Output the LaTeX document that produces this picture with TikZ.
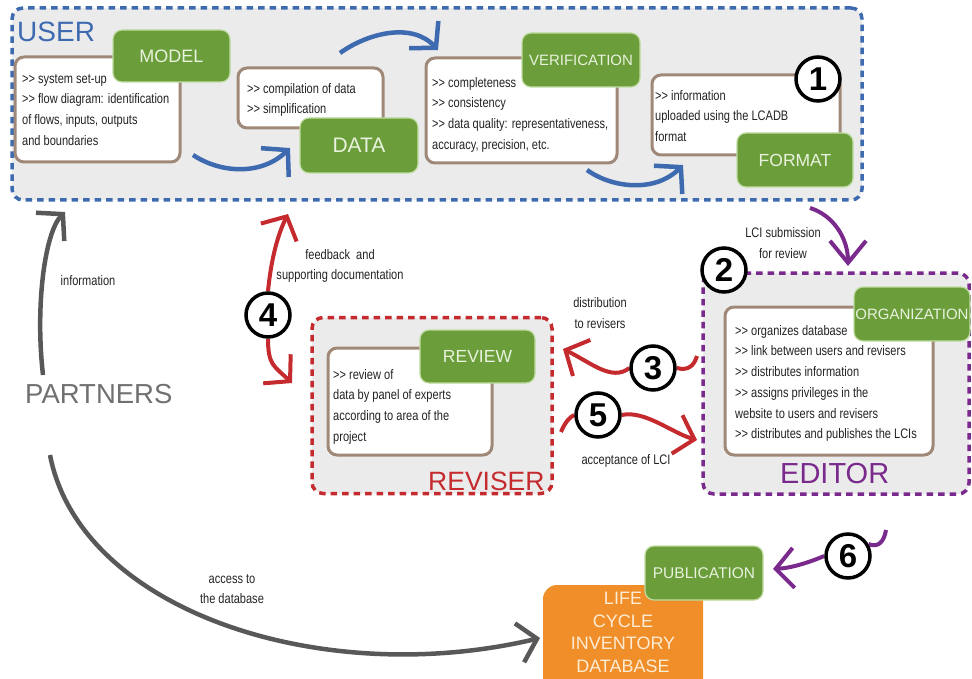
\documentclass[tikz,border=0pt]{standalone}
\usepackage{fontspec}
\setmainfont{Liberation Sans}
\newfontfamily\nf{Liberation Sans}[FakeStretch=0.8]
\usetikzlibrary{arrows.meta}
\definecolor{ublue}{RGB}{62,106,176}
\definecolor{gfill}{RGB}{107,158,58}
\definecolor{gline}{RGB}{190,220,160}
\definecolor{gtext}{RGB}{232,242,222}
\definecolor{bline}{RGB}{160,136,120}
\definecolor{cfill}{RGB}{235,235,235}
\definecolor{rred}{RGB}{196,42,46}
\definecolor{ppur}{RGB}{122,42,140}
\definecolor{agray}{RGB}{88,88,88}
\definecolor{ptext}{RGB}{112,112,112}
\definecolor{oorange}{RGB}{240,142,42}
\definecolor{otext}{RGB}{253,236,212}
\definecolor{stext}{RGB}{35,35,35}
\pgfdeclarelayer{back}
\pgfdeclarelayer{mid}
\pgfsetlayers{back,mid,main}
\begin{document}
\begin{tikzpicture}[x=1pt,y=-1pt,
 container/.style={rounded corners=11pt, fill=cfill, line width=3.5pt, dash pattern=on 6.5pt off 5pt, inner sep=0pt},
 greenbox/.style={draw=gline, line width=1.2pt, fill=gfill, rounded corners=9pt, text=gtext, inner sep=0pt},
 whitebox/.style={draw=bline, line width=3pt, fill=white, rounded corners=9pt, inner sep=0pt},
 bodytext/.style={font=\nf\fontsize{13.8}{20.7}\selectfont, text=stext, align=left, anchor=north west, inner sep=0pt},
 labeltext/.style={font=\nf\fontsize{13.8}{20.7}\selectfont, text=stext, align=center, inner sep=0pt},
 bigtitle/.style={anchor=base west, inner sep=0pt},
 numc/.style={circle, draw=black, line width=3.5pt, fill=white, minimum size=44pt, inner sep=0pt, font=\fontsize{33}{33}\selectfont\bfseries},
 tipbarb/.style={-{Straight Barb[length=18pt,width=40pt]}},
 bluearrow/.style={draw=ublue, line width=4.5pt},
 redarrow/.style={draw=rred, line width=4pt},
 purarrow/.style={draw=ppur, line width=4pt},
 grayarrow/.style={draw=agray, line width=4.5pt}
]
\useasboundingbox (0,0) rectangle (972,679);

\begin{pgfonlayer}{back}
% containers
\node[container, draw=ublue, minimum width=850pt, minimum height=192pt] (user) at (437,104) {};
\node[container, draw=ppur, minimum width=266pt, minimum height=221pt] (editor) at (836,383.5) {};
\node[container, draw=rred, minimum width=240pt, minimum height=176pt] (reviser) at (432,405.5) {};

% white boxes
\node[whitebox, minimum width=165pt, minimum height=105pt] (modelw) at (97.5,109.5) {};
\node[whitebox, minimum width=145pt, minimum height=60pt] (dataw) at (310.5,98) {};
\node[whitebox, minimum width=191pt, minimum height=105pt] (verifw) at (521.5,110.5) {};
\node[whitebox, minimum width=188pt, minimum height=80pt] (formatw) at (746,115) {};
\node[whitebox, minimum width=208pt, minimum height=148pt] (editorw) at (829,381) {};
\node[whitebox, minimum width=164pt, minimum height=107pt] (reveww) at (410,401.5) {};

% texts in white boxes
\node[bodytext] (modelt) at (22,74) {>{}> system set-up\\>{}> flow diagram: identification\\of flows, inputs, outputs\\and boundaries};
\node[bodytext] (datat) at (247,83) {>{}> compilation of data\\>{}> simplification};
\node[bodytext] (veriftt) at (432,77) {>{}> completeness\\>{}> consistency\\>{}> data quality: representativeness,\\accuracy, precision, etc.};
\node[bodytext] (formatt) at (655,90) {>{}> information\\uploaded using the LCADB\\format};
\node[bodytext] (editort) at (735,325) {>{}> organizes database\\>{}> link between users and revisers\\>{}> distributes information\\>{}> assigns privileges in the\\website to users and revisers\\>{}> distributes and publishes the LCIs};
\node[bodytext] (reviewt) at (333,369) {>{}> review of\\data by panel of experts\\according to area of the\\project};

% green boxes
\node[greenbox, minimum width=117pt, minimum height=52pt, font=\fontsize{18}{18}\selectfont] (model) at (171.5,56) {MODEL};
\node[greenbox, minimum width=118pt, minimum height=55pt, font=\fontsize{21}{21}\selectfont] (data) at (359,145.5) {DATA};
\node[greenbox, minimum width=118pt, minimum height=54pt, font=\fontsize{15}{15}\selectfont] (verif) at (581,60) {VERIFICATION};
\node[greenbox, minimum width=116pt, minimum height=54pt, font=\fontsize{17.5}{17.5}\selectfont] (format) at (795,160) {FORMAT};
\node[greenbox, minimum width=116pt, minimum height=54pt, font=\fontsize{15}{15}\selectfont] (org) at (912,314) {ORGANIZATION};
\node[greenbox, minimum width=115pt, minimum height=53pt, font=\fontsize{17.5}{17.5}\selectfont] (review) at (477.5,356.5) {REVIEW};

% database
\node[draw=none, fill=oorange, rounded corners=14pt, minimum width=160pt, minimum height=110pt, inner sep=0pt] (lcidb) at (623,640) {};
\node[font=\fontsize{18}{22.7}\selectfont, text=otext, align=center, anchor=north, inner sep=0pt] (dbtext) at (623,592) {LIFE\\CYCLE\\INVENTORY\\DATABASE};
\node[greenbox, minimum width=118pt, minimum height=54pt, font=\fontsize{15.5}{15.5}\selectfont] (pub) at (704,573) {PUBLICATION};

% titles
\node[bigtitle, text=ublue, font=\fontsize{28}{28}\selectfont] (userlbl) at (17,42) {USER};
\node[bigtitle, text=ppur, font=\fontsize{29}{29}\selectfont] (editorlbl) at (780,483) {EDITOR};
\node[bigtitle, text=rred, font=\fontsize{26.5}{26.5}\selectfont] (reviserlbl) at (428,490) {REVISER};
\node[bigtitle, text=ptext, font=\fontsize{27.5}{27.5}\selectfont] (partners) at (25,403) {PARTNERS};

% labels
\node[labeltext] (lblinfo) at (88,281) {information};
\node[labeltext] (lblfeed) at (340,266) {feedback~ and\\supporting documentation};
\node[labeltext] (lbldist) at (600,313) {distribution\\to revisers};
\node[labeltext] (lblacc) at (626,461) {acceptance of LCI};
\node[labeltext] (lblaccess) at (232,589) {access to\\the database};
\node[labeltext] (lblsub) at (783,243) {LCI submission\\for review};
\end{pgfonlayer}

% numbered circles
\node[numc] (c1) at (818,79) {1};
\node[numc] (c2) at (724,270) {2};
\node[numc] (c3) at (653,368) {3};
\node[numc] (c4) at (268,315) {4};
\node[numc] (c5) at (598,415) {5};
\node[numc] (c6) at (848,556) {6};

% free ends
\coordinate (b1s) at (193,155);
\coordinate (b1e) at (290,148);
\coordinate (b2s) at (340,53);
\coordinate (b2e) at (438,50);
\coordinate (b3s) at (587,170);
\coordinate (b3e) at (683,165);
\coordinate (ps) at (810,208);
\coordinate (pe) at (848,266);
\coordinate (r4a) at (288,214);
\coordinate (r4b) at (292,383);
\coordinate (r3s) at (697,356);
\coordinate (r3e) at (563,349);
\coordinate (r5s) at (561,432);
\coordinate (r5e) at (697,440);
\coordinate (p6s) at (886,530);
\coordinate (p6e) at (773,569);
\coordinate (g1s) at (43,375);
\coordinate (g1e) at (65,212);
\coordinate (g2s) at (50,455);
\coordinate (g2e) at (540,638);

\begin{pgfonlayer}{mid}
\draw[bluearrow, tipbarb] (b1s) .. controls (222,174) and (262,175) .. (b1e);
\draw[bluearrow, tipbarb] (b2s) .. controls (368,33) and (412,22) .. (b2e);
\draw[bluearrow, tipbarb] (b3s) .. controls (612,188) and (655,193) .. (b3e);
\draw[purarrow, -{Straight Barb[length=22pt,width=36pt]}] (ps) .. controls (833,215) and (848,238) .. (pe);
\draw[redarrow, tipbarb] (c4.north) .. controls (270,270) and (275,240) .. (r4a);
\draw[redarrow, tipbarb] (c4.south) .. controls (268,365) and (274,366) .. (r4b);
\draw[redarrow] (r3s) .. controls (694,366) and (688,371) .. (c3.east);
\draw[redarrow, tipbarb] (c3.west) .. controls (612,382) and (590,362) .. (r3e);
\draw[redarrow] (r5s) .. controls (565,422) and (570,417) .. (c5.west);
\draw[redarrow, tipbarb] (c5.east) .. controls (645,410) and (672,433) .. (r5e);
\draw[purarrow] (p6s) .. controls (884,542) and (878,548) .. (c6.30);
\draw[purarrow, tipbarb] (c6.west) .. controls (810,562) and (792,568) .. (p6e);
\draw[grayarrow, tipbarb] (g1s) .. controls (35,305) and (45,232) .. (g1e);
\draw[grayarrow, tipbarb] (g2s) .. controls (80,610) and (320,690) .. (g2e);
\end{pgfonlayer}
\end{tikzpicture}
\end{document}
